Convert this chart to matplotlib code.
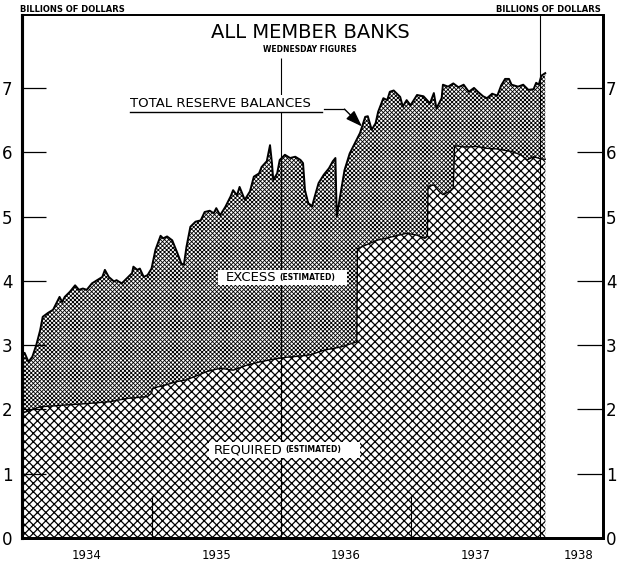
import matplotlib
matplotlib.use("Agg")
import matplotlib.pyplot as plt
import matplotlib.patches as mpatches

plt.rcParams.update({
    "font.family": "DejaVu Sans",
    "hatch.linewidth": 0.75,
})
NARROW = ["Liberation Sans Narrow", "DejaVu Sans"]

# ── data (fractional years, billions of dollars) ─────────────────────────────

total_t = [
    1934.00, 1934.02, 1934.05, 1934.08, 1934.11, 1934.14, 1934.16, 1934.20,
    1934.24, 1934.27, 1934.29, 1934.31, 1934.33, 1934.37, 1934.41, 1934.44,
    1934.47, 1934.50, 1934.54, 1934.58, 1934.62, 1934.64, 1934.67, 1934.71,
    1934.73, 1934.77, 1934.81, 1934.85, 1934.86, 1934.89, 1934.91, 1934.94,
    1934.97, 1935.00, 1935.03, 1935.07, 1935.09, 1935.12, 1935.16, 1935.20,
    1935.23, 1935.25, 1935.27, 1935.30, 1935.34, 1935.38, 1935.41, 1935.45,
    1935.48, 1935.50, 1935.53, 1935.57, 1935.61, 1935.63, 1935.66, 1935.68,
    1935.72, 1935.76, 1935.79, 1935.83, 1935.85, 1935.89, 1935.915, 1935.93,
    1935.94, 1935.97, 1935.99, 1936.03, 1936.07, 1936.11, 1936.15, 1936.17,
    1936.185, 1936.21, 1936.24, 1936.26, 1936.29, 1936.33, 1936.37, 1936.40,
    1936.42, 1936.43, 1936.46, 1936.49, 1936.53, 1936.57, 1936.61, 1936.65,
    1936.67, 1936.70, 1936.73, 1936.75, 1936.79, 1936.82, 1936.84, 1936.87,
    1936.89, 1936.92, 1936.94, 1936.97, 1937.00, 1937.05, 1937.10, 1937.15,
    1937.18, 1937.20, 1937.24, 1937.25, 1937.29, 1937.33, 1937.37, 1937.41,
    1937.45, 1937.49, 1937.52, 1937.56, 1937.59, 1937.63, 1937.67, 1937.70,
    1937.73, 1937.76, 1937.78, 1937.83, 1937.87, 1937.91, 1937.95, 1937.97,
    1937.99, 1938.01, 1938.04,
]
total_v = [
    2.85, 2.88, 2.74, 2.82, 3.00, 3.23, 3.44, 3.50,
    3.55, 3.67, 3.75, 3.67, 3.75, 3.83, 3.93, 3.86,
    3.88, 3.86, 3.96, 4.01, 4.06, 4.17, 4.06, 3.99,
    4.01, 3.96, 4.04, 4.12, 4.22, 4.17, 4.19, 4.06,
    4.09, 4.19, 4.48, 4.70, 4.66, 4.69, 4.63, 4.43,
    4.27, 4.25, 4.53, 4.84, 4.92, 4.94, 5.07, 5.09,
    5.05, 5.13, 5.02, 5.15, 5.31, 5.41, 5.33, 5.46,
    5.26, 5.39, 5.62, 5.67, 5.77, 5.86, 6.11, 5.83,
    5.57, 5.67, 5.88, 5.96, 5.91, 5.93, 5.88, 5.83,
    5.41, 5.21, 5.16, 5.31, 5.52, 5.65, 5.75, 5.86,
    5.91, 5.00, 5.36, 5.72, 5.98, 6.14, 6.30, 6.55,
    6.56, 6.35, 6.45, 6.63, 6.84, 6.81, 6.94, 6.96,
    6.92, 6.86, 6.71, 6.81, 6.73, 6.89, 6.87, 6.76,
    6.92, 6.68, 6.84, 7.05, 7.02, 7.07, 7.01, 7.05,
    6.94, 7.00, 6.94, 6.87, 6.84, 6.91, 6.88, 7.04,
    7.14, 7.14, 7.05, 7.02, 7.05, 6.97, 6.98, 7.08,
    7.05, 7.19, 7.23,
]

req_t = [
    1934.00, 1934.14, 1934.35, 1934.50, 1934.68, 1934.81, 1934.97, 1935.00,
    1935.01, 1935.11, 1935.19, 1935.27, 1935.32, 1935.43, 1935.53, 1935.63,
    1935.74, 1935.84, 1935.94, 1936.04, 1936.15, 1936.23, 1936.33, 1936.46,
    1936.585, 1936.59, 1936.74, 1936.87, 1936.97, 1937.05, 1937.11, 1937.13,
    1937.135, 1937.18, 1937.22, 1937.25, 1937.30, 1937.33, 1937.34, 1937.43,
    1937.51, 1937.59, 1937.67, 1937.78, 1937.85, 1937.90, 1937.95, 1938.00,
    1938.04,
]
req_v = [
    1.94, 2.04, 2.07, 2.09, 2.12, 2.17, 2.20, 2.25,
    2.33, 2.38, 2.43, 2.46, 2.50, 2.59, 2.64, 2.61,
    2.69, 2.74, 2.78, 2.81, 2.83, 2.85, 2.92, 2.97,
    3.05, 4.50, 4.63, 4.69, 4.74, 4.71, 4.66, 4.69,
    5.47, 5.49, 5.39, 5.34, 5.39, 5.44, 6.10, 6.08,
    6.09, 6.06, 6.05, 6.01, 5.96, 5.88, 5.93, 5.90,
    5.89,
]

y_ticks = [0, 1, 2, 3, 4, 5, 6, 7]
year_pos = [1934.5, 1935.5, 1936.5, 1937.5, 1938.3]
year_labels = ["1934", "1935", "1936", "1937", "1938"]

# ── figure ───────────────────────────────────────────────────────────────────

fig = plt.figure(figsize=(6.2, 5.62), dpi=100)
ax = fig.add_axes([22 / 620, 24 / 562, 581 / 620, 523 / 562])
ax.set_xlim(1934.0, 1938.486)
ax.set_ylim(0, 8.134)
ax.set_axisbelow(False)

# excess = fine crosshatch, required = coarse crosshatch on top
with plt.rc_context({"hatch.linewidth": 0.6}):
    ax.fill_between(total_t, 0, total_v, facecolor="white", edgecolor="black",
                    hatch="x" * 8, linewidth=0, zorder=1)
ax.plot(total_t, total_v, color="black", lw=1.4, zorder=3)
with plt.rc_context({"hatch.linewidth": 0.9}):
    ax.fill_between(req_t, 0, req_v, facecolor="white", edgecolor="black",
                    hatch="xxxx", linewidth=0, zorder=2)
ax.plot(req_t, req_v, color="black", lw=1.0, zorder=3)

# year dividers
ax.vlines([1936.0], 0, 7.47, color="black", lw=0.8, zorder=4)
ax.vlines([1938.0], 0, 8.134, color="black", lw=0.8, zorder=4)
ax.vlines([1935.0, 1937.0], 0, 0.65, color="black", lw=0.8, zorder=4)

# left axis
ax.set_yticks(y_ticks)
ax.tick_params(axis="y", direction="in", length=17, width=0.9,
               labelsize=12, pad=7)
for lab in ax.get_yticklabels():
    lab.set_family(NARROW)
ax.set_xticks(year_pos, year_labels)
ax.tick_params(axis="x", length=0, labelsize=8.5, pad=8)

# right axis
axr = ax.twinx()
axr.set_ylim(ax.get_ylim())
axr.set_yticks(y_ticks)
axr.tick_params(axis="y", direction="in", length=19, width=0.9,
                labelsize=12, pad=2)
for lab in axr.get_yticklabels():
    lab.set_family(NARROW)

for a in (ax, axr):
    a.spines["left"].set_linewidth(2.2)
    a.spines["bottom"].set_linewidth(2.0)
    a.spines["right"].set_linewidth(2.0)
    a.spines["top"].set_linewidth(1.3)

# header texts
fig.text(20 / 620, 1 - 9 / 562, "BILLIONS OF DOLLARS", ha="left", va="center",
         fontsize=6, fontweight="bold")
fig.text(601 / 620, 1 - 9 / 562, "BILLIONS OF DOLLARS", ha="right", va="center",
         fontsize=6, fontweight="bold")
fig.text(0.5, 1 - 33 / 562, "ALL MEMBER BANKS", ha="center", va="center",
         fontsize=14, family=NARROW)
fig.text(0.5, 1 - 49 / 562, "WEDNESDAY FIGURES", ha="center", va="center",
         fontsize=5.5, fontweight="bold")

# total reserve balances label with arrow
ax.text(1934.834, 6.76, "TOTAL RESERVE BALANCES", ha="left", va="center",
        fontsize=9.5, zorder=6,
        bbox=dict(boxstyle="square,pad=0.15", facecolor="white", edgecolor="none"))
ax.plot([1934.834, 1936.317], [6.625, 6.625], color="black", lw=1.0, zorder=6)
ax.plot([1936.33, 1936.49], [6.67, 6.67], color="black", lw=0.9, zorder=6)
ax.annotate("", xy=(1936.625, 6.40), xytext=(1936.49, 6.67), zorder=6,
            arrowprops=dict(arrowstyle="-|>,head_length=1.0,head_width=0.35",
                            color="black", lw=1.0, shrinkA=0, shrinkB=0))

# excess label
ax.add_patch(mpatches.Rectangle((1935.51, 3.93), 1.0, 0.24, facecolor="white",
                                edgecolor="none", zorder=5))
ax.text(1935.57, 4.05, "EXCESS", ha="left", va="center", fontsize=9.5, zorder=6)
ax.text(1935.99, 4.05, "(ESTIMATED)", ha="left", va="center", fontsize=5.5,
        fontweight="bold", zorder=6)

# required label
ax.add_patch(mpatches.Rectangle((1935.44, 1.245), 1.17, 0.25, facecolor="white",
                                edgecolor="none", zorder=5))
ax.text(1935.48, 1.37, "REQUIRED", ha="left", va="center", fontsize=9.5, zorder=6)
ax.text(1936.03, 1.37, "(ESTIMATED)", ha="left", va="center", fontsize=5.5,
        fontweight="bold", zorder=6)

fig.savefig("out.png", dpi=100)
plt.close(fig)
